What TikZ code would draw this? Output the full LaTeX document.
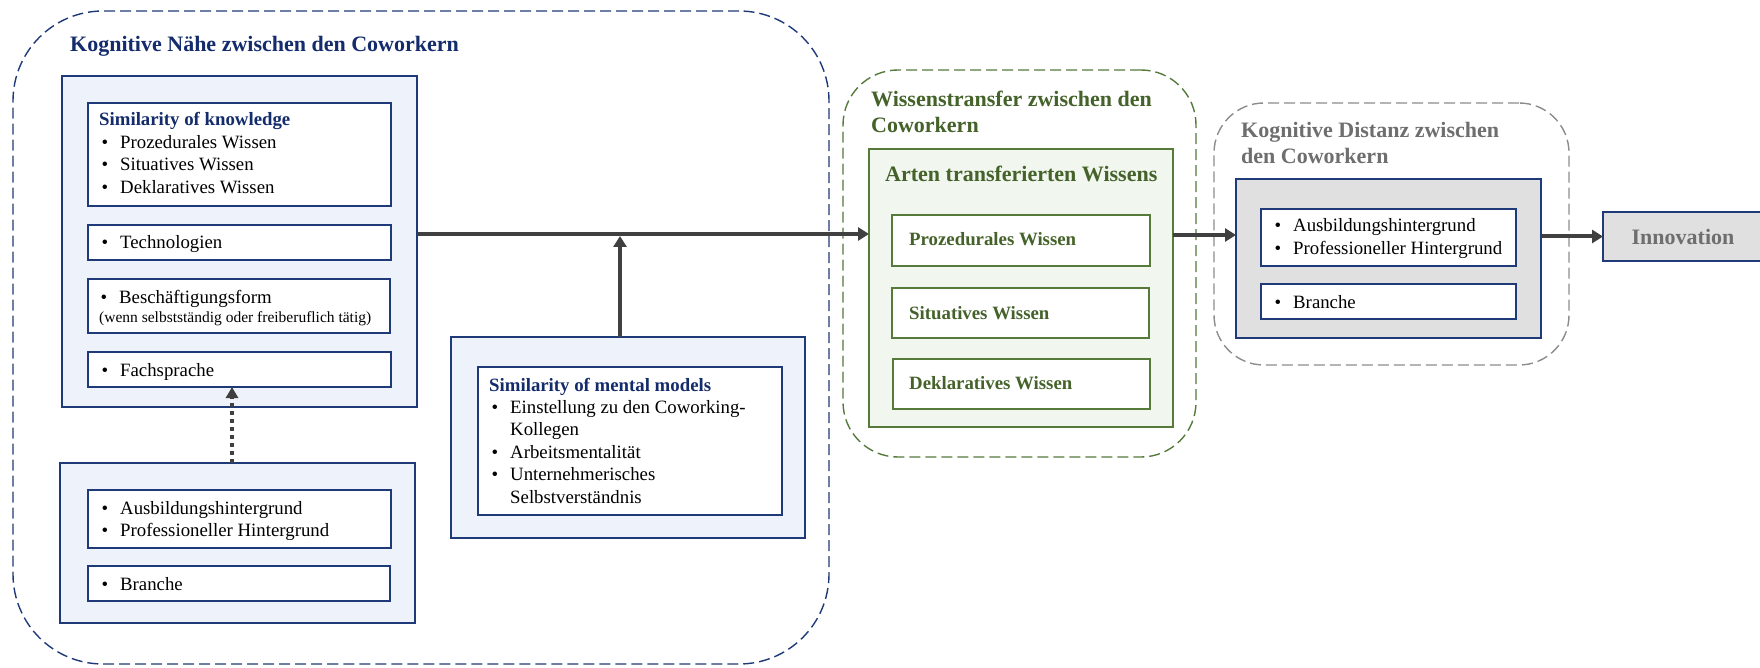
\documentclass[tikz,border=0pt]{standalone}
\usepackage{fontspec}
\setmainfont{Liberation Serif}
\usetikzlibrary{arrows.meta}
\definecolor{navy}{HTML}{1F3A78}
\definecolor{navytxt}{HTML}{142C6B}
\definecolor{lblue}{HTML}{EEF2FA}
\definecolor{gtxt}{HTML}{44622A}
\definecolor{gline}{HTML}{557A3A}
\definecolor{gfill}{HTML}{F1F6EE}
\definecolor{grtxt}{HTML}{6E6E6E}
\definecolor{grline}{HTML}{8C8C8C}
\definecolor{grfill}{HTML}{E0E0E0}
\definecolor{arrc}{HTML}{404040}
\newcommand{\bl}[1]{\hbox{\makebox[21pt][l]{\hspace{2.5pt}\textbullet}#1}}
\newcommand{\lns}[2]{\vtop{\baselineskip=#1\lineskiplimit=-30pt\lineskip=0pt #2}}
\tikzset{
  bx/.style={draw=navy, line width=1.8pt, inner sep=0pt, outer sep=0pt, anchor=north west, fill=white},
  cont/.style={bx, fill=lblue},
  dcont/.style={inner sep=0pt, outer sep=0pt, anchor=north west, line width=1.4pt, dash pattern=on 11pt off 5pt},
  txt/.style={inner sep=0pt, anchor=base west, font=\fontsize{18.8}{22.5}\selectfont},
  ttl/.style={inner sep=0pt, anchor=base west, font=\fontsize{22}{26}\selectfont\bfseries},
  gbtxt/.style={inner sep=0pt, anchor=base west, font=\fontsize{18.8}{22.5}\selectfont\bfseries, text=gtxt},
  arrline/.style={draw=arrc, line width=4pt, -{Triangle[length=11pt,width=13pt]}},
}
\begin{document}
\begin{tikzpicture}[x=1pt,y=-1pt]
\useasboundingbox (0,0) rectangle (1760,668);
% containers (dashed)
\node[dcont, draw=navy, rounded corners=90pt, minimum width=816pt, minimum height=653pt] (outer) at (13,11) {};
\node[dcont, draw=gline, rounded corners=55pt, minimum width=353pt, minimum height=387pt] (gouter) at (843,70) {};
\node[dcont, draw=grline, rounded corners=50pt, minimum width=355pt, minimum height=262pt] (grouter) at (1214,103) {};
% titles
\node[ttl, text=navytxt] (t1) at (70,52) {Kognitive Nähe zwischen den Coworkern};
\node[ttl, text=gtxt] (t2) at (871,107) {\lns{26pt}{\hbox{Wissenstransfer zwischen den}\hbox{Coworkern}}};
\node[ttl, text=grtxt] (t3) at (1241,138) {\lns{26pt}{\hbox{Kognitive Distanz zwischen}\hbox{den Coworkern}}};
% knowledge container
\node[cont, minimum width=355pt, minimum height=331pt] (k) at (62,76) {};
\node[bx, minimum width=303pt, minimum height=103pt] (k1) at (88,103) {};
\node[txt] (k1t) at (99,126) {\lns{22.5pt}{\hbox{\bfseries\color{navytxt}Similarity of knowledge}\bl{Prozedurales Wissen}\bl{Situatives Wissen}\bl{Deklaratives Wissen}}};
\node[bx, minimum width=303pt, minimum height=35pt] (k2) at (88,225) {};
\node[txt] (k2t) at (99,248) {\bl{Technologien}};
\node[bx, minimum width=302pt, minimum height=54pt] (k3) at (88,279) {};
\node[txt] (k3t) at (98,303) {\bl{Beschäftigungsform}};
\node[txt, font=\fontsize{15.5}{18}\selectfont] (k3s) at (99,322) {(wenn selbstständig oder freiberuflich tätig)};
\node[bx, minimum width=303pt, minimum height=35pt] (k4) at (88,352) {};
\node[txt] (k4t) at (99,376) {\bl{Fachsprache}};
% lower background container
\node[cont, minimum width=355pt, minimum height=160pt] (b) at (60,463) {};
\node[bx, minimum width=303pt, minimum height=58pt] (b1) at (88,490) {};
\node[txt] (b1t) at (99,514) {\lns{22.5pt}{\bl{Ausbildungshintergrund}\bl{Professioneller Hintergrund}}};
\node[bx, minimum width=302pt, minimum height=35pt] (b2) at (88,566) {};
\node[txt] (b2t) at (99,590) {\bl{Branche}};
% mental models
\node[cont, minimum width=354pt, minimum height=201pt] (m) at (451,337) {};
\node[bx, minimum width=304pt, minimum height=148pt] (m1) at (478,367) {};
\node[txt] (m1t) at (489,391) {\lns{22.4pt}{\hbox{\bfseries\color{navytxt}Similarity of mental models}\bl{Einstellung zu den Coworking-}\hbox{\hspace{21pt}Kollegen}\bl{Arbeitsmentalität}\bl{Unternehmerisches}\hbox{\hspace{21pt}Selbstverständnis}}};
% green transfer
\node[bx, draw=gline, fill=gfill, minimum width=304pt, minimum height=278pt] (ga) at (869,149) {};
\node[ttl, text=gtxt] (gat) at (885,182) {Arten transferierten Wissens};
\node[bx, draw=gline, minimum width=258pt, minimum height=51pt] (g1) at (892,215) {};
\node[gbtxt] (g1t) at (909,245.5) {Prozedurales Wissen};
\node[bx, draw=gline, minimum width=257pt, minimum height=50pt] (g2) at (892,288) {};
\node[gbtxt] (g2t) at (909,319) {Situatives Wissen};
\node[bx, draw=gline, minimum width=257pt, minimum height=50pt] (g3) at (893,359) {};
\node[gbtxt] (g3t) at (909,389.5) {Deklaratives Wissen};
% gray distance
\node[bx, fill=grfill, minimum width=305pt, minimum height=159pt] (gd) at (1236,179) {};
\node[bx, minimum width=255pt, minimum height=57pt] (d1) at (1261,209) {};
\node[txt] (d1t) at (1272,232) {\lns{22.5pt}{\bl{Ausbildungshintergrund}\bl{Professioneller Hintergrund}}};
\node[bx, minimum width=255pt, minimum height=35pt] (d2) at (1261,284) {};
\node[txt] (d2t) at (1272,308) {\bl{Branche}};
% innovation
\node[bx, fill=grfill, minimum width=160pt, minimum height=49pt] (inn) at (1603,212) {};
\node[inner sep=0pt, anchor=base, font=\fontsize{22}{26}\selectfont\bfseries, text=grtxt] (innt) at (1683,245) {Innovation};
% connectors
\coordinate (hy) at (0,234);
\coordinate (vx) at (620,0);
\coordinate (hy2) at (0,236);
\coordinate (dx) at (232,0);
\coordinate (hy3) at (0,235);
\draw[arrline] (k.east |- hy) -- (ga.west |- hy);
\draw[arrline] (vx |- m.north) -- (vx |- hy2);
\draw[draw=arrc, line width=3.5pt, dash pattern=on 4pt off 4pt, -{Triangle[length=11pt,width=12pt]}] (dx |- b.north) -- (dx |- k4.south);
\draw[arrline] (ga.east |- hy3) -- (gd.west |- hy3);
\draw[arrline] (gd.east |- inn.west) -- (inn.west);
\end{tikzpicture}
\end{document}
